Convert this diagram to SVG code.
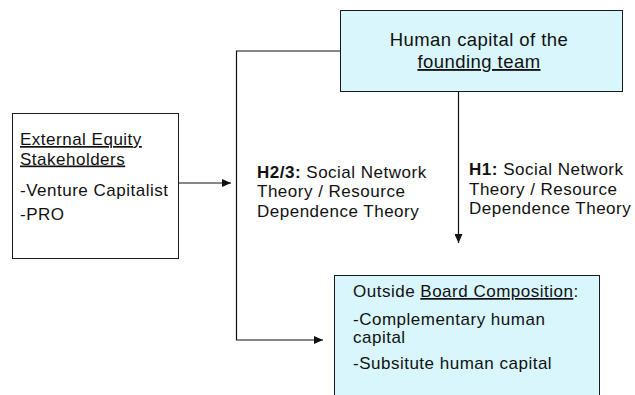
<svg xmlns="http://www.w3.org/2000/svg" width="635" height="395" viewBox="0 0 635 395">
  <style>
    text { font-family: "Liberation Sans", Arial, Helvetica, sans-serif; font-size: 17px; letter-spacing: 0.5px; fill: #111; }
    .box { fill: #ffffff; stroke: #1a1a1a; stroke-width: 1; }
    .hl { fill: #d8f6fc; stroke: #1a1a1a; stroke-width: 1; }
    .big { font-size: 18.5px; letter-spacing: 0.45px; }
    .u { text-decoration: underline; }
    .b { font-weight: bold; }
    .wire { fill: none; stroke: #111; stroke-width: 1.2; }
  </style>
  <defs>
    <marker id="arrow" markerUnits="userSpaceOnUse" markerWidth="10" markerHeight="8" refX="9" refY="4" orient="auto">
      <path d="M0,0 L9,4 L0,8 Z" fill="#111"/>
    </marker>
  </defs>

  <!-- connectors -->
  <g id="connectors">
    <line class="wire" x1="179" y1="183" x2="231" y2="183" marker-end="url(#arrow)"/>
    <path class="wire" d="M340,51 H236.5 V340 H323" marker-end="url(#arrow)"/>
    <line class="wire" x1="458.5" y1="91" x2="458.5" y2="243" marker-end="url(#arrow)"/>
  </g>

  <!-- external stakeholders -->
  <g id="stakeholders">
    <rect class="box" x="12.5" y="113.5" width="166" height="145"/>
    <text x="20" y="145"><tspan class="u">External Equity</tspan></text>
    <text x="20" y="164.5"><tspan class="u">Stakeholders</tspan></text>
    <text x="20" y="196">-Venture Capitalist</text>
    <text x="20" y="220">-PRO</text>
  </g>

  <!-- founding team -->
  <g id="founding-team">
    <rect class="hl" x="340.5" y="10.5" width="282" height="81"/>
    <text class="big" x="479" y="46" text-anchor="middle">Human capital of the</text>
    <text class="big" x="479" y="68" text-anchor="middle"><tspan class="u">founding team</tspan></text>
  </g>

  <!-- hypothesis labels -->
  <g id="label-h23">
    <text x="257" y="178"><tspan class="b">H2/3:</tspan> Social Network</text>
    <text x="257" y="197">Theory / Resource</text>
    <text x="257" y="217">Dependence Theory</text>
  </g>
  <g id="label-h1">
    <text x="469" y="175"><tspan class="b">H1:</tspan> Social Network</text>
    <text x="469" y="195">Theory / Resource</text>
    <text x="469" y="214">Dependence Theory</text>
  </g>

  <!-- board composition -->
  <g id="board">
    <rect class="hl" x="334.5" y="275.5" width="265" height="130"/>
    <text x="353" y="297">Outside <tspan class="u">Board Composition</tspan>:</text>
    <text x="353" y="325">-Complementary human</text>
    <text x="353" y="343">capital</text>
    <text x="353" y="369">-Subsitute human capital</text>
  </g>
</svg>
